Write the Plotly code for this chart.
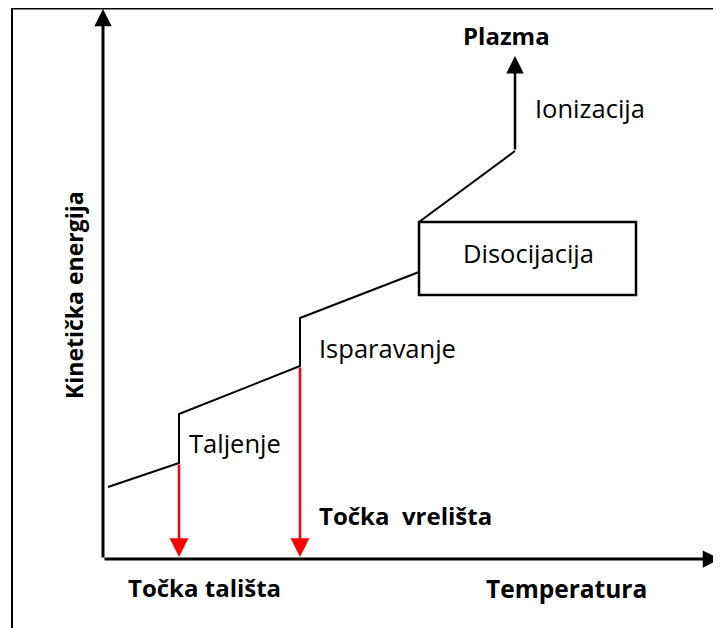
import plotly.graph_objects as go

# phase curve (temperature, kinetic energy) in arbitrary units
curve_t = [5, 76, 76, 197, 197, 316]
curve_e = [72, 96, 145, 193, 241, 287]

# dissociation box corners
box_t = [316, 533]
box_e = [264, 337]

# ionization branch, ends with an arrow
ion_t = [316, 412, 412]
ion_e = [337, 408, 503]

# melting and boiling points (red arrows down to the T axis)
point_t = [76, 197]
point_e = [96, 193]

T_MAX, E_MAX = 617, 550

FONT = "Open Sans"
BLACK = "#000000"
RED = "#ff0000"

# the page body adds an 8px margin, so the figure is 8px smaller
W, H = 713, 620

fig = go.Figure()

# curve
fig.add_trace(
    go.Scatter(
        x=curve_t,
        y=curve_e,
        mode="lines",
        line=dict(color=BLACK, width=2),
        showlegend=False,
        hoverinfo="skip",
    )
)
# ionization line (the arrow head is an annotation)
fig.add_trace(
    go.Scatter(
        x=ion_t[:2],
        y=ion_e[:2],
        mode="lines",
        line=dict(color=BLACK, width=2),
        showlegend=False,
        hoverinfo="skip",
    )
)

shapes = [
    # dissociation box
    dict(
        type="rect",
        xref="x",
        yref="y",
        x0=box_t[0],
        x1=box_t[1],
        y0=box_e[0],
        y1=box_e[1],
        line=dict(color=BLACK, width=2.5),
        fillcolor="rgba(0,0,0,0)",
    ),
    # outer frame (top and left visible)
    dict(
        type="line",
        xref="paper",
        yref="paper",
        x0=4 / W,
        x1=1.0,
        y0=1 - 0.5 / H,
        y1=1 - 0.5 / H,
        line=dict(color=BLACK, width=2),
    ),
    dict(
        type="line",
        xref="paper",
        yref="paper",
        x0=4 / W,
        x1=4 / W,
        y0=0,
        y1=1,
        line=dict(color=BLACK, width=2),
    ),
]


def arrow(x, y, ax, ay, color, width, size):
    return dict(
        x=x,
        y=y,
        ax=ax,
        ay=ay,
        xref="x",
        yref="y",
        axref="x",
        ayref="y",
        text="",
        showarrow=True,
        arrowhead=2,
        arrowwidth=width,
        arrowsize=size,
        arrowcolor=color,
        standoff=0,
    )


annotations = [
    # axes
    arrow(0, E_MAX, 0, 0, BLACK, 3, 1.15),
    arrow(T_MAX, 0, 0, 0, BLACK, 3, 1.15),
    # ionization arrow
    arrow(ion_t[2], ion_e[2], ion_t[1], ion_e[1], BLACK, 2.5, 1.4),
]
for t, e in zip(point_t, point_e):
    annotations.append(arrow(t, 2, t, e, RED, 2.5, 1.5))


def label(x, y, text, bold=False, size=25.5, angle=0, xanchor="center"):
    return dict(
        x=x,
        y=y,
        xref="x",
        yref="y",
        text=f"<b>{text}</b>" if bold else text,
        showarrow=False,
        textangle=angle,
        xanchor=xanchor,
        yanchor="middle",
        font=dict(family=FONT, size=size, color=BLACK),
    )


annotations += [
    label(403, 524, "Plazma", bold=True, size=24),
    label(487, 451, "Ionizacija"),
    label(425, 306, "Disocijacija"),
    label(214, 211, "Isparavanje", xanchor="left"),
    label(84, 116, "Taljenje", xanchor="left"),
    label(214, 44, "Točka&nbsp; vrelišta", bold=True, size=24, xanchor="left"),
    label(101, -28, "Točka tališta", bold=True, size=24),
    label(463, -29, "Temperatura", bold=True, size=24.5),
    label(-29, 264, "Kinetička energija", bold=True, size=23, angle=-90),
]

fig.update_layout(
    width=W,
    height=H,
    margin=dict(l=0, r=0, t=0, b=0),
    paper_bgcolor="white",
    plot_bgcolor="white",
    xaxis=dict(range=[-95, 618], visible=False, fixedrange=True),
    yaxis=dict(range=[-69, 551], visible=False, fixedrange=True),
    shapes=shapes,
    annotations=annotations,
    showlegend=False,
)

fig.write_html("out.html")
